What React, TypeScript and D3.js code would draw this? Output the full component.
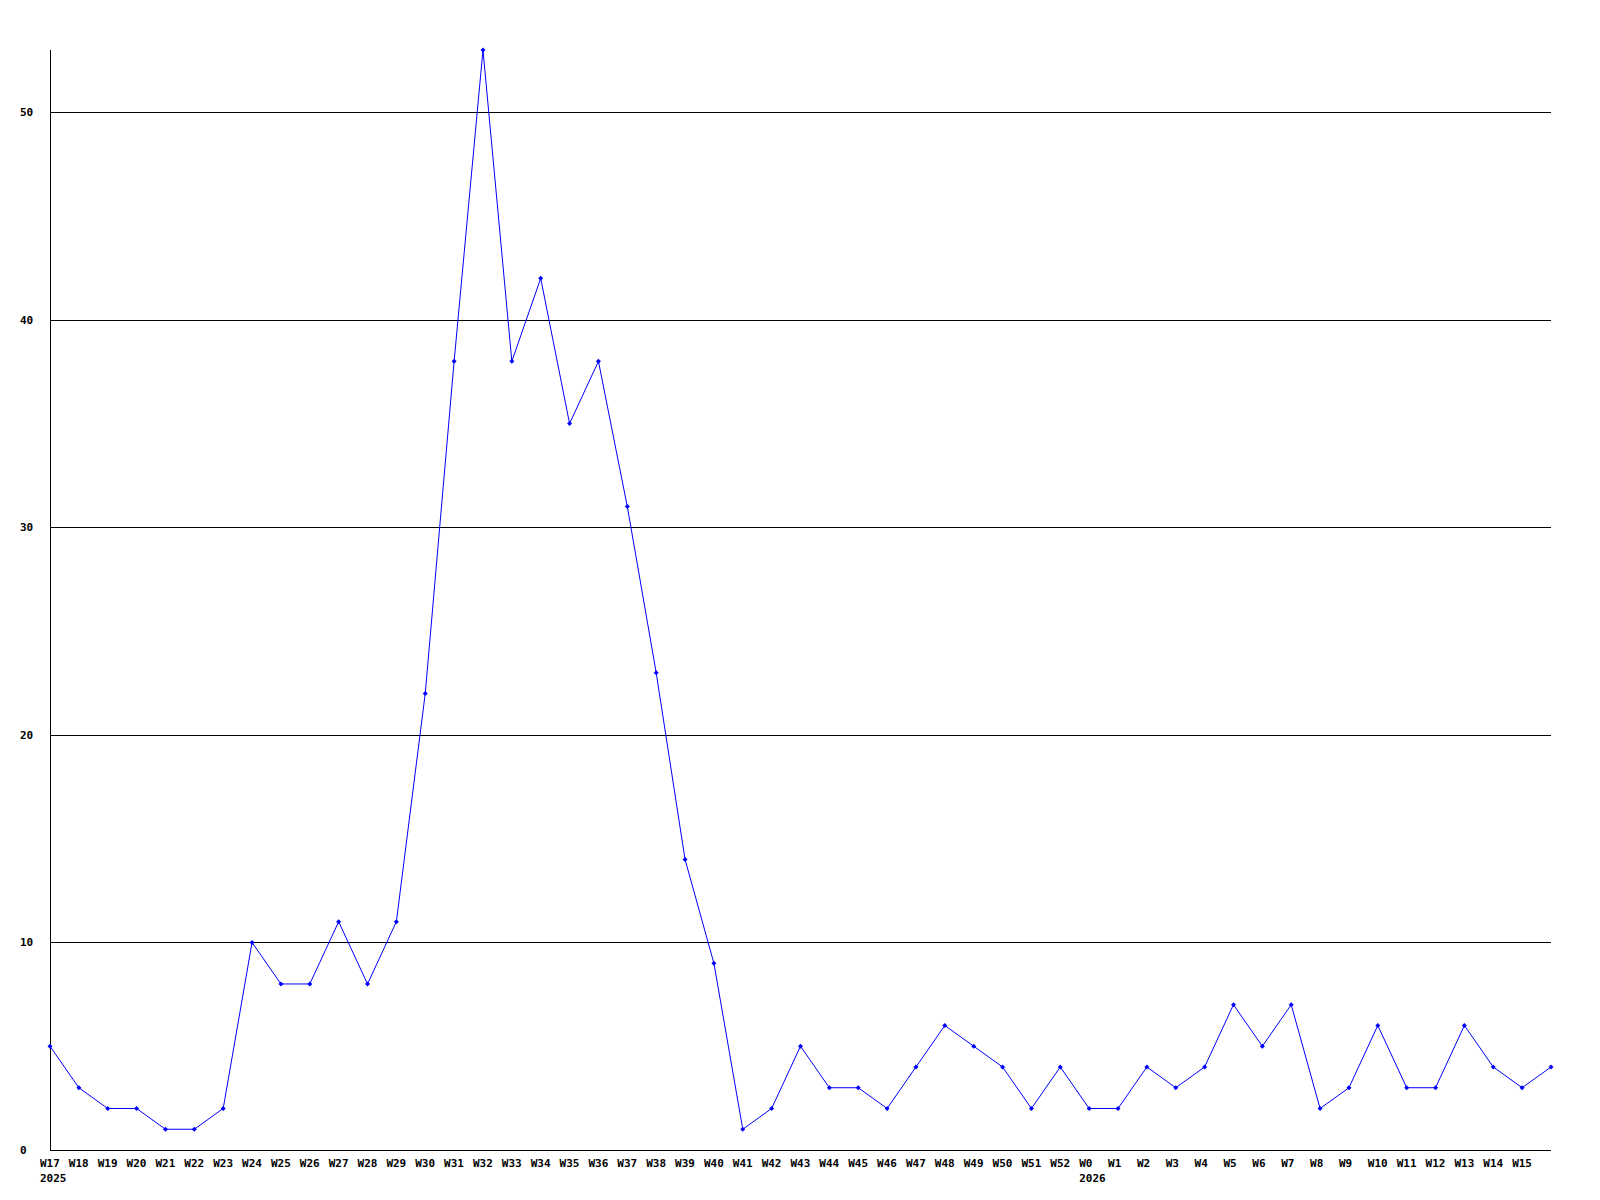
import React from 'react';
import * as d3 from 'd3';

// weekly counts, W17 2025 .. W16 2026
const weeks = [
  'W17', 'W18', 'W19', 'W20', 'W21', 'W22', 'W23', 'W24', 'W25', 'W26', 'W27', 'W28',
  'W29', 'W30', 'W31', 'W32', 'W33', 'W34', 'W35', 'W36', 'W37', 'W38', 'W39', 'W40',
  'W41', 'W42', 'W43', 'W44', 'W45', 'W46', 'W47', 'W48', 'W49', 'W50', 'W51', 'W52',
  'W0', 'W1', 'W2', 'W3', 'W4', 'W5', 'W6', 'W7', 'W8', 'W9', 'W10', 'W11', 'W12',
  'W13', 'W14', 'W15', 'W16'
];
const counts = [
  5, 3, 2, 2, 1, 1, 2, 10, 8, 8, 11, 8,
  11, 22, 38, 53, 38, 42, 35, 38, 31, 23, 14, 9,
  1, 2, 5, 3, 3, 2, 4, 6, 5, 4, 2, 4,
  2, 2, 4, 3, 4, 7, 5, 7, 2, 3, 6, 3, 3,
  6, 4, 3, 4
];
// last week has no label in the reference
const labelled = weeks.slice(0, weeks.length - 1);
const yearMarks = [
  { week: 'W17', year: '2025' },
  { week: 'W0', year: '2026' }
];
const yTicks = [0, 10, 20, 30, 40, 50];

const width = 1600;
const height = 1200;
const left = 50;
const right = 1551;
const top = 50;
const bottom = 1150;

const font = '"DejaVu Sans Mono", "Liberation Mono", monospace';

const App = () => {
  const x = d3.scalePoint<string>().domain(weeks).range([left, right]);
  const y = d3.scaleLinear().domain([0, d3.max(counts) as number]).range([bottom, top]);

  const line = d3.line<number>()
    .x((_, i) => x(weeks[i]) as number)
    .y(d => y(d));

  const px = (v: number) => Math.round(v) + 0.5;

  return (
    <svg width={width} height={height} style={{ display: 'block', position: 'absolute', left: 0, top: 0 }}>
      <rect width={width} height={height} fill="#fff" />
      {yTicks.map(t => (
        <g key={t}>
          {t > 0 && (
            <line x1={left} x2={right} y1={px(y(t))} y2={px(y(t))} stroke="#000" shapeRendering="crispEdges" />
          )}
          <text x={20} y={y(t) + 4} fontFamily={font} fontWeight="bold" fontSize={11} fill="#000">{t}</text>
        </g>
      ))}
      <line x1={px(left)} x2={px(left)} y1={top} y2={bottom} stroke="#000" shapeRendering="crispEdges" />
      <line x1={left} x2={right} y1={px(bottom)} y2={px(bottom)} stroke="#000" shapeRendering="crispEdges" />
      {labelled.map(w => (
        <text key={w} x={(x(w) as number) - 10} y={1167} fontFamily={font} fontWeight="bold" fontSize={11} fill="#000">{w}</text>
      ))}
      {yearMarks.map(m => (
        <text key={m.year} x={(x(m.week) as number) - 10} y={1182} fontFamily={font} fontWeight="bold" fontSize={11} fill="#000">{m.year}</text>
      ))}
      <path d={line(counts) ?? ''} fill="none" stroke="#0000ff" strokeWidth={1} />
      {counts.map((c, i) => {
        const cx = x(weeks[i]) as number;
        const cy = y(c);
        return (
          <path key={i} d={`M${cx},${cy - 2.5}L${cx + 2.5},${cy}L${cx},${cy + 2.5}L${cx - 2.5},${cy}Z`} fill="#0000ff" />
        );
      })}
    </svg>
  );
};

export default App;
